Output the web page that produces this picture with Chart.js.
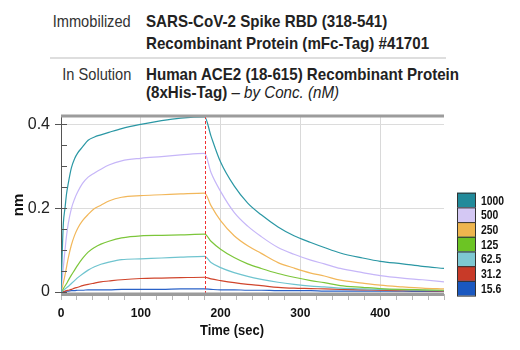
<!DOCTYPE html>
<html>
<head>
<meta charset="utf-8">
<script src="https://cdn.jsdelivr.net/npm/chart.js@4.4.1/dist/chart.umd.min.js"></script>
<style>
  body { margin: 0; background: #fff; }
  #wrap { position: relative; width: 520px; height: 350px; overflow: hidden; }
  #chart { position: absolute; left: 0; top: 0; }
  .hd { position: absolute; font-family: 'Liberation Sans', Arial, sans-serif; white-space: nowrap; line-height: 20px; font-size: 17px; }
  .lab { right: 389px; color: #333; transform: scaleX(0.86); transform-origin: right center; }
  .val { left: 146px; font-weight: bold; color: #222; transform: scaleX(0.89); transform-origin: left center; }
  .val i { font-weight: normal; }
  #rule { position: absolute; left: 50px; top: 57px; width: 396px; height: 2px; background: #dedede; }
</style>
</head>
<body>
<div id="wrap">
  <div class="hd lab" style="top:12px">Immobilized</div>
  <div class="hd val" style="top:12px">SARS-CoV-2 Spike RBD (318-541)</div>
  <div class="hd val" style="top:34px">Recombinant Protein (mFc-Tag) #41701</div>
  <div id="rule"></div>
  <div class="hd lab" style="top:65px">In Solution</div>
  <div class="hd val" style="top:65px">Human ACE2 (18-615) Recombinant Protein</div>
  <div class="hd val" style="top:83px">(8xHis-Tag) <i>– by Conc. (nM)</i></div>
  <canvas id="chart" width="520" height="350"></canvas>
</div>
<script>
// tiempos (s) y respuesta (nm)
const times = [0, 1, 2, 3, 5, 7, 9, 13, 17, 21, 27, 34, 42, 50, 60, 76, 100, 126, 150, 180,
  188, 200, 217, 234, 251, 272, 292, 313, 330, 350, 378, 400, 428, 453, 480];

const conc1000 = [0, 0.06, 0.12, 0.165, 0.2, 0.235, 0.258, 0.296, 0.318, 0.332, 0.346, 0.362, 0.37, 0.375, 0.381, 0.39, 0.4, 0.409, 0.415, 0.418,
  0.372, 0.31, 0.253, 0.212, 0.184, 0.155, 0.134, 0.118, 0.106, 0.093, 0.081, 0.073, 0.067, 0.061, 0.056];
const conc500 = [0, 0.02, 0.04, 0.06, 0.1, 0.135, 0.162, 0.199, 0.222, 0.239, 0.259, 0.274, 0.284, 0.293, 0.303, 0.313, 0.319, 0.323, 0.327, 0.331,
  0.285, 0.24, 0.19, 0.157, 0.132, 0.106, 0.09, 0.076, 0.067, 0.056, 0.046, 0.039, 0.033, 0.029, 0.024];
const conc250 = [0, 0.006, 0.014, 0.022, 0.04, 0.06, 0.08, 0.112, 0.135, 0.152, 0.17, 0.185, 0.199, 0.207, 0.217, 0.226, 0.23, 0.232, 0.234, 0.236,
  0.206, 0.17, 0.134, 0.11, 0.092, 0.07, 0.057, 0.045, 0.038, 0.028, 0.021, 0.016, 0.012, 0.009, 0.007];
const conc125 = [0, 0.002, 0.005, 0.008, 0.014, 0.02, 0.027, 0.04, 0.052, 0.064, 0.08, 0.095, 0.106, 0.114, 0.121, 0.129, 0.134, 0.135, 0.136, 0.138,
  0.121, 0.102, 0.082, 0.067, 0.056, 0.044, 0.035, 0.027, 0.022, 0.015, 0.011, 0.008, 0.006, 0.005, 0.004];
const conc62 = [0, 0.001, 0.002, 0.004, 0.007, 0.01, 0.013, 0.02, 0.027, 0.034, 0.043, 0.052, 0.06, 0.066, 0.071, 0.077, 0.079, 0.081, 0.083, 0.085,
  0.07, 0.058, 0.046, 0.037, 0.03, 0.023, 0.018, 0.014, 0.012, 0.009, 0.007, 0.006, 0.005, 0.004, 0.003];
const conc31 = [0, 0, 0.001, 0.001, 0.002, 0.003, 0.004, 0.006, 0.009, 0.011, 0.015, 0.018, 0.021, 0.024, 0.026, 0.029, 0.032, 0.033, 0.034, 0.035,
  0.031, 0.027, 0.022, 0.018, 0.015, 0.011, 0.009, 0.008, 0.007, 0.006, 0.005, 0.004, 0.003, 0.003, 0.002];
const conc15 = [0, 0, 0, 0.001, 0.001, 0.002, 0.002, 0.003, 0.003, 0.004, 0.004, 0.005, 0.005, 0.005, 0.005, 0.006, 0.006, 0.006, 0.007, 0.007,
  0.006, 0.005, 0.005, 0.004, 0.004, 0.003, 0.003, 0.003, 0.002, 0.002, 0.002, 0.002, 0.002, 0.001, 0.001];

const concLabels = ['1000', '500', '250', '125', '62.5', '31.2', '15.6'];
const concSeries = [conc1000, conc500, conc250, conc125, conc62, conc31, conc15];
const lineColors = ['#2a97a4', '#c6b6f8', '#f2b75a', '#7cc63a', '#6fc4cf', '#d0452c', '#2a62c8'];
const legendColors = ['#218a9a', '#d4c8f4', '#eeb54e', '#6cc424', '#7ec8d2', '#c83a28', '#1a58c0'];

const xLabelTicks = [0, 100, 200, 300, 400];
const yLabelTicks = [0, 0.2, 0.4];
const yMinorTicks = [0, 0.05, 0.1, 0.15, 0.2, 0.25, 0.3, 0.35, 0.4];
const injectionEnd = 180;

const sans = "'Liberation Sans', Arial, sans-serif";

const datasets = concSeries.map((vals, i) => ({
  label: concLabels[i],
  data: times.map((t, k) => ({ x: t, y: vals[k] })),
  borderColor: lineColors[i],
  borderWidth: 1.2,
  pointRadius: 0,
  cubicInterpolationMode: 'monotone',
  fill: false
}));

// texto estrecho: se comprime en horizontal
function narrowText(ctx, text, x, y, sx) {
  ctx.save();
  ctx.translate(x, y);
  ctx.scale(sx, 1);
  ctx.fillText(text, 0, 0);
  ctx.restore();
}

// decoraciones: marco, marcas del eje y, línea de inyección, leyenda
const decorPlugin = {
  id: 'decor',
  afterDatasetsDraw(chart) {
    const ctx = chart.ctx;
    const a = chart.chartArea;
    const xs = chart.scales.x;
    const ys = chart.scales.y;
    ctx.save();

    // linea de fin de asociación
    const xi = Math.round(xs.getPixelForValue(injectionEnd)) + 0.5;
    ctx.strokeStyle = '#f03030';
    ctx.lineWidth = 1;
    ctx.setLineDash([3, 2]);
    ctx.beginPath();
    ctx.moveTo(xi, a.top);
    ctx.lineTo(xi, a.bottom);
    ctx.stroke();
    ctx.setLineDash([]);

    // barras gruesas arriba y abajo
    ctx.fillStyle = '#9c9c9c';
    ctx.fillRect(a.left, a.top - 1.5, a.right - a.left, 3);
    ctx.fillRect(a.left, a.bottom - 1.5, a.right - a.left, 3.5);

    // marcas del eje y
    ctx.strokeStyle = '#555';
    ctx.lineWidth = 1;
    yMinorTicks.forEach(v => {
      const y = Math.round(ys.getPixelForValue(v)) + 0.5;
      const major = yLabelTicks.includes(v);
      ctx.beginPath();
      ctx.moveTo(major ? a.left - 6 : a.left, y);
      ctx.lineTo(a.left + 6, y);
      ctx.stroke();
    });

    // leyenda
    const bx = 457, bw = 19, bh = 14.7;
    let by = 192.7;
    ctx.font = 'bold 13px ' + sans;
    ctx.textBaseline = 'middle';
    ctx.textAlign = 'left';
    legendColors.forEach((c, i) => {
      ctx.fillStyle = c;
      ctx.fillRect(bx, by, bw, bh);
      ctx.strokeStyle = '#333';
      ctx.strokeRect(bx + 0.5, by + 0.5, bw - 1, bh);
      ctx.fillStyle = '#111';
      narrowText(ctx, concLabels[i], 481, by + bh / 2 + 1, 0.8);
      by += bh;
    });

    // titulo eje x
    ctx.font = 'bold 15px ' + sans;
    ctx.textAlign = 'center';
    ctx.fillStyle = '#111';
    narrowText(ctx, 'Time (sec)', 232, 331, 0.865);
    ctx.restore();
  }
};

const config = {
  type: 'line',
  data: { datasets: datasets },
  options: {
    responsive: false,
    animation: false,
    devicePixelRatio: 1,
    layout: { padding: { left: 0, top: 116, right: 76, bottom: 0 } },
    plugins: {
      legend: { display: false },
      tooltip: { enabled: false }
    },
    scales: {
      x: {
        type: 'linear',
        min: 0,
        max: 480,
        afterFit: s => { s.height = 56; },
        border: { display: false },
        grid: {
          color: c => (xLabelTicks.includes(c.tick.value) && c.tick.value > 0) ? '#d9d9d9' : 'rgba(0,0,0,0)',
          tickColor: '#b8b8b8',
          tickLength: 6,
          lineWidth: 1
        },
        ticks: {
          stepSize: 20,
          autoSkip: false,
          maxRotation: 0,
          padding: 6,
          color: '#111',
          font: { family: sans, size: 12, weight: 'bold' },
          callback: v => xLabelTicks.includes(v) ? String(v) : ''
        }
      },
      y: {
        min: -0.005,
        max: 0.42,
        afterFit: s => { s.width = 61; },
        afterBuildTicks: s => { s.ticks = yMinorTicks.map(v => ({ value: v })); },
        border: { display: true, color: '#555', width: 1 },
        grid: {
          drawTicks: false,
          color: c => (c.tick.value > 0 && yLabelTicks.includes(c.tick.value)) ? '#dcdcdc' : 'rgba(0,0,0,0)'
        },
        ticks: {
          padding: 11,
          color: '#222',
          font: { family: sans, size: 16 },
          callback: v => yLabelTicks.includes(v) ? String(v) : ''
        },
        title: {
          display: true,
          text: 'nm',
          color: '#111',
          padding: { top: 10, bottom: 0 },
          font: { family: sans, size: 15, weight: 'bold' }
        }
      }
    }
  },
  plugins: [decorPlugin]
};

function renderChart() {
  const canvas = document.getElementById('chart');
  new Chart(canvas, config);
}

renderChart();
</script>
</body>
</html>
